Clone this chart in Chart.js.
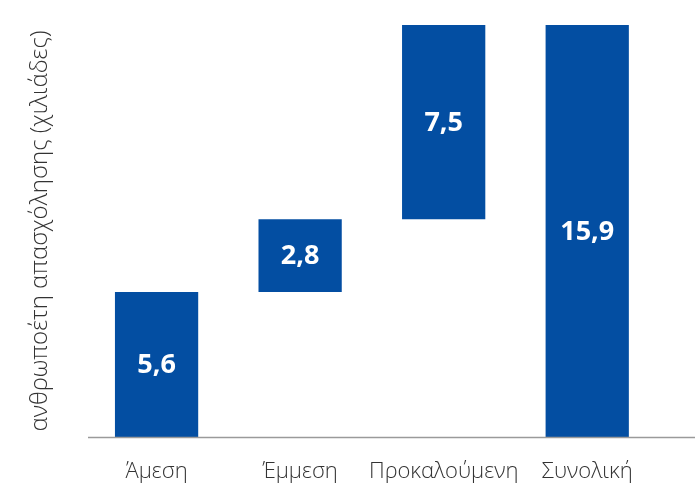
<!DOCTYPE html>
<html>
<head>
<meta charset="utf-8">
<script src="https://cdn.jsdelivr.net/npm/chart.js@4/dist/chart.umd.min.js"></script>
<style>
  body { margin: 0; background: #fff; }
  #wrap { width: 700px; height: 486px; }
</style>
</head>
<body>
<div id="wrap"><canvas id="waterfall"></canvas></div>
<script>
var categories = ['Άμεση', 'Έμμεση', 'Προκαλούμενη', 'Συνολική'];
var values = [5.6, 2.8, 7.5, 15.9];
var isTotal = [false, false, false, true];
var axisTitle = 'ανθρωποέτη απασχόλησης (χιλιάδες)';

var blue = '#034EA2';

// floating bars: each step starts where the previous one ended, the total starts at 0
var bars = [];
var running = 0;
values.forEach(function (v, i) {
  if (isTotal[i]) {
    bars.push([0, v]);
  } else {
    bars.push([running, running + v]);
    running += v;
  }
});

function fmt(v) {
  return v.toFixed(1).replace('.', ',');
}

var extras = {
  id: 'extras',
  afterDatasetsDraw: function (chart) {
    var ctx = chart.ctx;
    var y0 = chart.scales.y.getPixelForValue(0);
    ctx.save();
    // baseline, a bit wider than the plot area
    ctx.strokeStyle = '#9a9a9a';
    ctx.lineWidth = 1.5;
    ctx.beginPath();
    ctx.moveTo(88, y0 + 0.5);
    ctx.lineTo(695, y0 + 0.5);
    ctx.stroke();
    // values inside bars
    ctx.fillStyle = '#fff';
    ctx.font = 'bold 27px "Open Sans"';
    ctx.textAlign = 'center';
    ctx.textBaseline = 'middle';
    chart.getDatasetMeta(0).data.forEach(function (bar, i) {
      ctx.fillText(fmt(values[i]), bar.x, (bar.y + bar.base) / 2 + 1);
    });
    ctx.restore();
  }
};

new Chart(document.getElementById('waterfall'), {
  type: 'bar',
  data: {
    labels: categories,
    datasets: [{
      data: bars,
      backgroundColor: blue,
      borderWidth: 0,
      categoryPercentage: 1,
      barPercentage: 0.58
    }]
  },
  options: {
    responsive: true,
    maintainAspectRatio: false,
    animation: false,
    layout: { padding: { top: 25, right: 41, left: 26, bottom: 0 } },
    plugins: {
      legend: { display: false },
      tooltip: { enabled: false }
    },
    scales: {
      x: {
        grid: { display: false, drawTicks: false },
        border: { display: false },
        afterFit: function (scale) { scale.height = 49; },
        ticks: {
          color: '#333',
          padding: 22,
          maxRotation: 0,
          autoSkip: false,
          font: { family: 'Open Sans', size: 22, weight: 300 }
        }
      },
      y: {
        min: 0,
        max: 15.9,
        grid: { display: false },
        border: { display: false },
        ticks: { display: false },
        title: {
          display: true,
          text: axisTitle,
          color: '#333',
          padding: { top: 0, bottom: 22 },
          font: { family: 'Open Sans', size: 24, weight: 300 }
        }
      }
    }
  },
  plugins: [extras]
});
</script>
</body>
</html>
